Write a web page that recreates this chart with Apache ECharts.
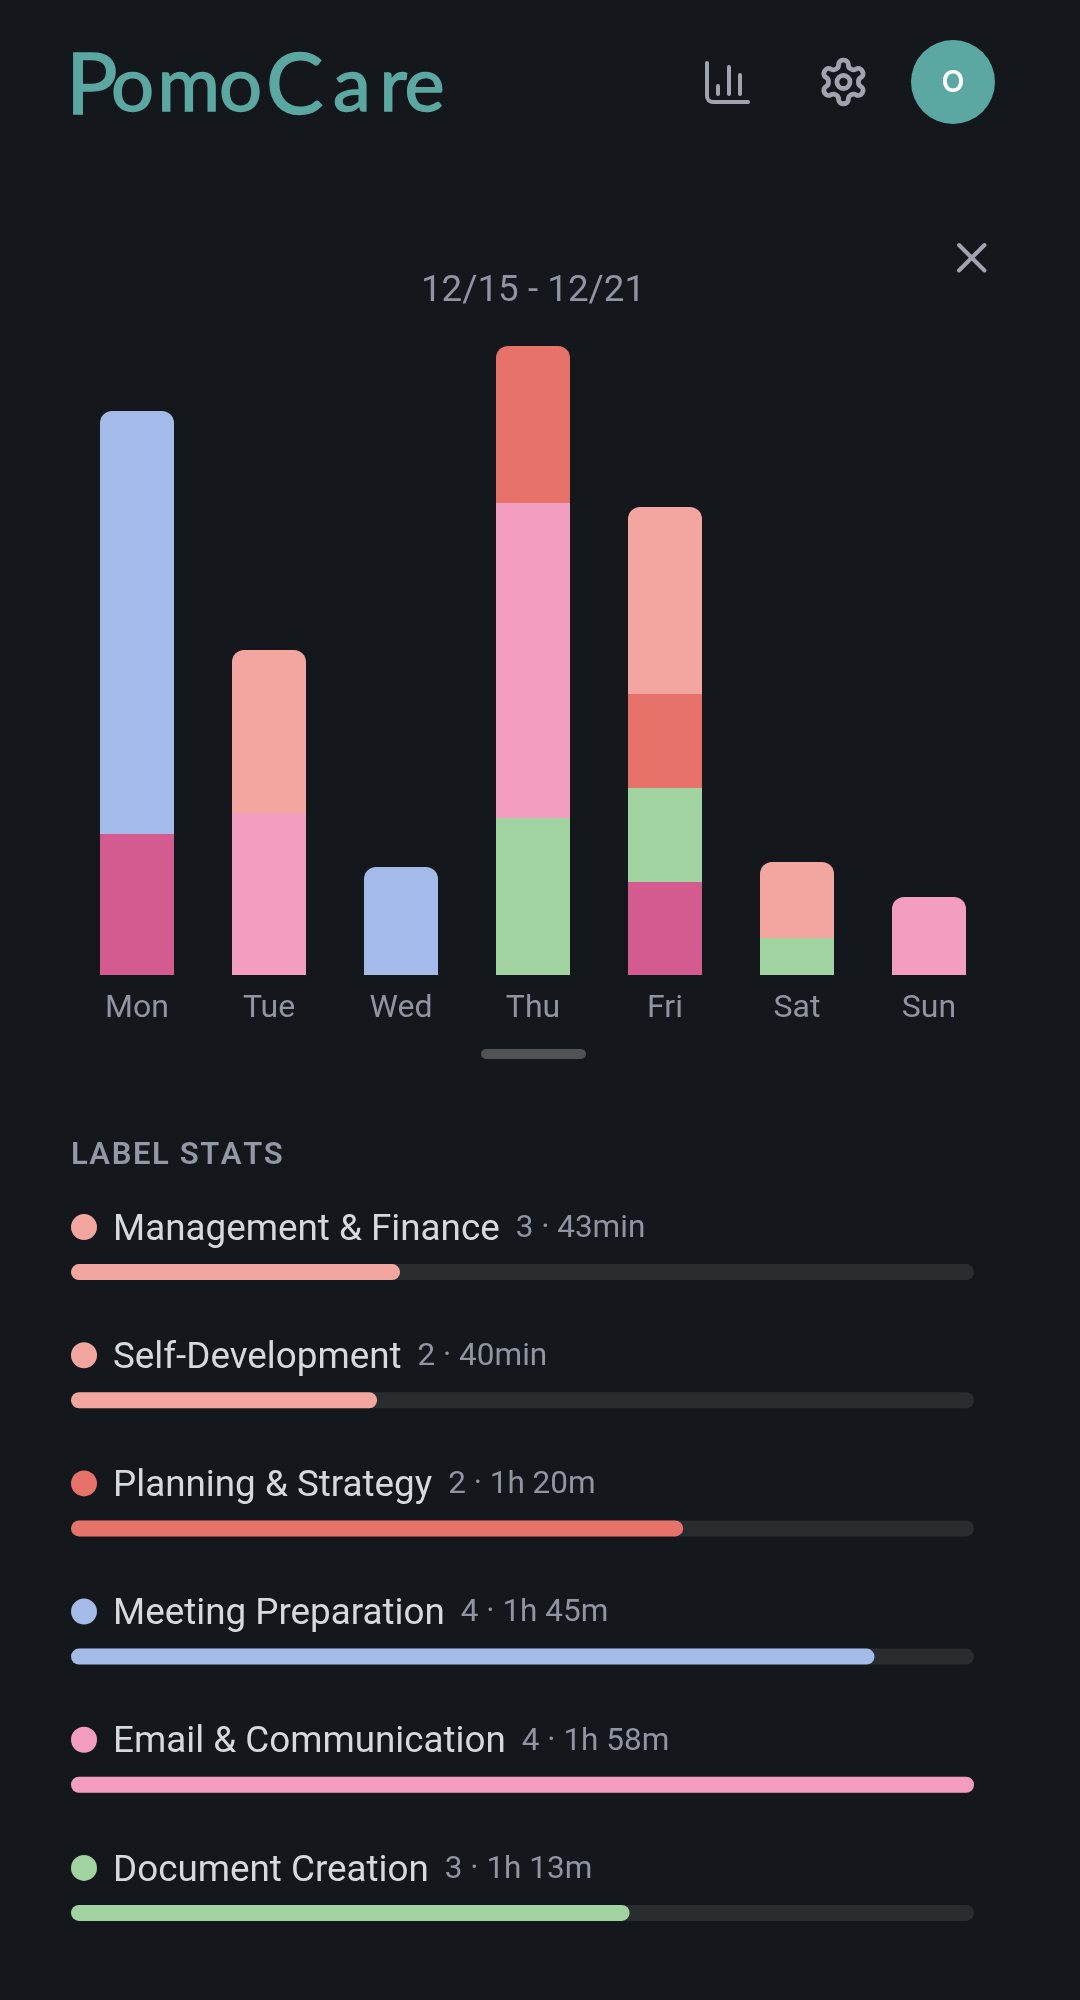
<!DOCTYPE html>
<html>
<head>
<meta charset="utf-8">
<title>PomoCare</title>
<script src="https://cdn.jsdelivr.net/npm/echarts@6/dist/echarts.min.js"></script>
<style>
  html, body { margin: 0; padding: 0; background: #14171c; }
  #grafico { width: 1080px; height: 2000px; }
</style>
</head>
<body>
<div id="grafico"></div>
<script>
// Datos: minutos por dia
const dias = ['Mon', 'Tue', 'Wed', 'Thu', 'Fri', 'Sat', 'Sun'];
const rosaOscuro = [28.2, 0, 0, 0, 18.6, 0, 0];
const verde = [0, 0, 0, 31.4, 18.8, 7.4, 0];
const rosa = [0, 32.4, 0, 63, 0, 0, 15.6];
const rojo = [0, 0, 0, 31.4, 18.8, 0, 0];
const salmon = [0, 32.6, 0, 0, 37.4, 15.2, 0];
const azul = [84.6, 0, 21.6, 0, 0, 0, 0];

// Datos: etiquetas
const etiquetas = ['Management & Finance', 'Self-Development', 'Planning & Strategy', 'Meeting Preparation', 'Email & Communication', 'Document Creation'];
const sesiones = [3, 2, 2, 4, 4, 3];
const duracion = ['43min', '40min', '1h 20m', '1h 45m', '1h 58m', '1h 13m'];
const minutos = [43, 40, 80, 105, 118, 73];

const colorRosaOscuro = '#d35b8f';
const colorVerde = '#a0d3a0';
const colorRosa = '#f39ec0';
const colorRojo = '#e6726a';
const colorSalmon = '#f3a69f';
const colorAzul = '#a4bae8';
const coloresEtiquetas = [colorSalmon, colorSalmon, colorRojo, colorAzul, colorRosa, colorVerde];

const gris = '#8f95a1';
const grisIcono = '#a0a4ae';
const teal = '#5ba8a3';
const fuente = 'Roboto';

const pilas = [
    { datos: rosaOscuro, color: colorRosaOscuro },
    { datos: verde, color: colorVerde },
    { datos: rosa, color: colorRosa },
    { datos: rojo, color: colorRojo },
    { datos: salmon, color: colorSalmon },
    { datos: azul, color: colorAzul }
];

// Iconos del encabezado
echarts.graphic.registerShape('iconoBarras', echarts.graphic.extendPath('M707 63V96A6 6 0 0 0 713 102H748M718 86V94M729 67V94M740 75V94'));
echarts.graphic.registerShape('iconoCerrar', echarts.graphic.extendPath('M959 245L984.5 270.5M984.5 245L959 270.5'));
echarts.graphic.registerShape('iconoEngranaje', echarts.graphic.extendPath('M12.22 2h-.44a2 2 0 0 0-2 2v.18a2 2 0 0 1-1 1.73l-.43.25a2 2 0 0 1-2 0l-.15-.08a2 2 0 0 0-2.73.73l-.22.38a2 2 0 0 0 .73 2.73l.15.1a2 2 0 0 1 1 1.72v.51a2 2 0 0 1-1 1.74l-.15.09a2 2 0 0 0-.73 2.73l.22.38a2 2 0 0 0 2.73.73l.15-.08a2 2 0 0 1 2 0l.43.25a2 2 0 0 1 1 1.73V20a2 2 0 0 0 2 2h.44a2 2 0 0 0 2-2v-.18a2 2 0 0 1 1-1.73l.43-.25a2 2 0 0 1 2 0l.15.08a2 2 0 0 0 2.73-.73l.22-.39a2 2 0 0 0-.73-2.73l-.15-.08a2 2 0 0 1-1-1.74v-.5a2 2 0 0 1 1-1.74l.15-.09a2 2 0 0 0 .73-2.73l-.22-.38a2 2 0 0 0-2.73-.73l-.15.08a2 2 0 0 1-2 0l-.43-.25a2 2 0 0 1-1-1.73V4a2 2 0 0 0-2-2zM15 12a3 3 0 1 1-6 0a3 3 0 1 1 6 0z'));

// El segmento de arriba de cada dia lleva las esquinas redondeadas
function esTope(indicePila, indiceDia) {
    for (let i = pilas.length - 1; i >= 0; i--) {
        if (pilas[i].datos[indiceDia] > 0) return i === indicePila;
    }
    return false;
}

function crearSeriesPila() {
    return pilas.map((pila, p) => ({
        type: 'bar',
        stack: 'dia',
        xAxisIndex: 0,
        yAxisIndex: 0,
        barWidth: 74,
        silent: true,
        itemStyle: { color: pila.color },
        data: pila.datos.map((v, d) => ({
            value: v,
            itemStyle: { borderRadius: esTope(p, d) ? [12, 12, 0, 0] : 0 }
        }))
    }));
}

function crearSerieEtiquetas() {
    return {
        type: 'bar',
        xAxisIndex: 1,
        yAxisIndex: 1,
        barWidth: 16,
        silent: true,
        showBackground: true,
        backgroundStyle: { color: '#2a2d30', borderRadius: 8 },
        data: minutos.map((m, i) => ({
            value: m,
            itemStyle: { color: coloresEtiquetas[i], borderRadius: 8 },
            label: {
                show: true,
                position: [0, -37],
                align: 'left',
                verticalAlign: 'middle',
                formatter: '{dot|}{nombre|' + etiquetas[i] + '}{meta|' + sesiones[i] + ' · ' + duracion[i] + '}',
                rich: {
                    dot: { width: 26, height: 26, borderRadius: 13, backgroundColor: coloresEtiquetas[i] },
                    nombre: { fontFamily: fuente, fontSize: 36.8, color: '#d6d9de', padding: [7, 0, 0, 16] },
                    meta: { fontFamily: fuente, fontSize: 31.5, color: gris, padding: [4, 0, 0, 16] }
                }
            }
        }))
    };
}

function texto(txt, x, y, tam, color, alinear, peso, familia) {
    return {
        type: 'text',
        silent: true,
        style: {
            text: txt, x: x, y: y,
            fontFamily: familia || fuente,
            fontSize: tam,
            fontWeight: peso || 400,
            fill: color,
            align: alinear || 'left',
            verticalAlign: 'middle'
        }
    };
}

// Logo letra por letra: cada letra con su propio ancho de avance
function crearLogo() {
    const letras = 'PomoCare'.split('');
    const anchos = [45, 46.5, 61.5, 47, 67, 46.5, 25, 45];
    const rich = {};
    letras.forEach((c, i) => {
        rich['l' + i] = {
            fontFamily: 'Lato',
            fontSize: (c === 'P' || c === 'C') ? 86 : 76,
            fill: teal,
            stroke: teal,
            lineWidth: 1.5,
            width: anchos[i]
        };
    });
    return {
        type: 'text',
        silent: true,
        style: {
            text: letras.map((c, i) => '{l' + i + '|' + c + '}').join(''),
            x: 66, y: 86,
            align: 'left',
            verticalAlign: 'middle',
            fill: teal,
            rich: rich
        }
    };
}

function crearTituloEtiquetas() {
    return {
        type: 'text',
        silent: true,
        style: {
            text: 'LABEL STATS'.split('').map(c => '{l|' + c + '}').join(''),
            x: 71, y: 1156,
            align: 'left',
            verticalAlign: 'middle',
            rich: {
                l: { fontFamily: fuente, fontSize: 31, fontWeight: 600, fill: '#9298a4', padding: [0, 1.6, 0, 0] }
            }
        }
    };
}

function crearGraficos() {
    const trazo = { fill: null, stroke: grisIcono, lineCap: 'round', lineJoin: 'round' };
    return [
        crearLogo(),
        { type: 'iconoBarras', silent: true, shape: {}, style: Object.assign({ lineWidth: 4 }, trazo) },
        { type: 'iconoEngranaje', silent: true, x: 817.3, y: 55.8, scaleX: 2.18, scaleY: 2.18, shape: {}, style: Object.assign({ lineWidth: 2.2 }, trazo) },
        // avatar
        { type: 'circle', silent: true, shape: { cx: 953, cy: 82, r: 42 }, style: { fill: teal } },
        texto('O', 953, 83, 30, '#ffffff', 'center', 600, 'Inter'),
        { type: 'iconoCerrar', silent: true, shape: {}, style: Object.assign({ lineWidth: 4 }, trazo) },
        texto('12/15 - 12/21', 533, 292, 36.8, gris, 'center'),
        // asa
        { type: 'rect', silent: true, shape: { x: 481, y: 1049, width: 105, height: 10, r: 5 }, style: { fill: '#505255' } },
        crearTituloEtiquetas()
    ];
}

function crearOpcion() {
    return {
        backgroundColor: '#14171c',
        animation: false,
        graphic: crearGraficos(),
        grid: [
            { left: 71, top: 275, width: 924, height: 700 },
            { left: 71, top: 1208, width: 903, height: 769 }
        ],
        xAxis: [
            {
                type: 'category', gridIndex: 0, data: dias,
                axisLine: { show: false }, axisTick: { show: false },
                axisLabel: { color: gris, fontFamily: fuente, fontSize: 32, margin: 18 }
            },
            { type: 'value', gridIndex: 1, min: 0, max: 118, show: false }
        ],
        yAxis: [
            { type: 'value', gridIndex: 0, min: 0, max: 140, show: false },
            { type: 'category', gridIndex: 1, inverse: true, data: etiquetas, show: false }
        ],
        series: crearSeriesPila().concat([crearSerieEtiquetas()])
    };
}

function iniciar() {
    const grafico = echarts.init(document.getElementById('grafico'));
    grafico.setOption(crearOpcion());
}

iniciar();
</script>
</body>
</html>
